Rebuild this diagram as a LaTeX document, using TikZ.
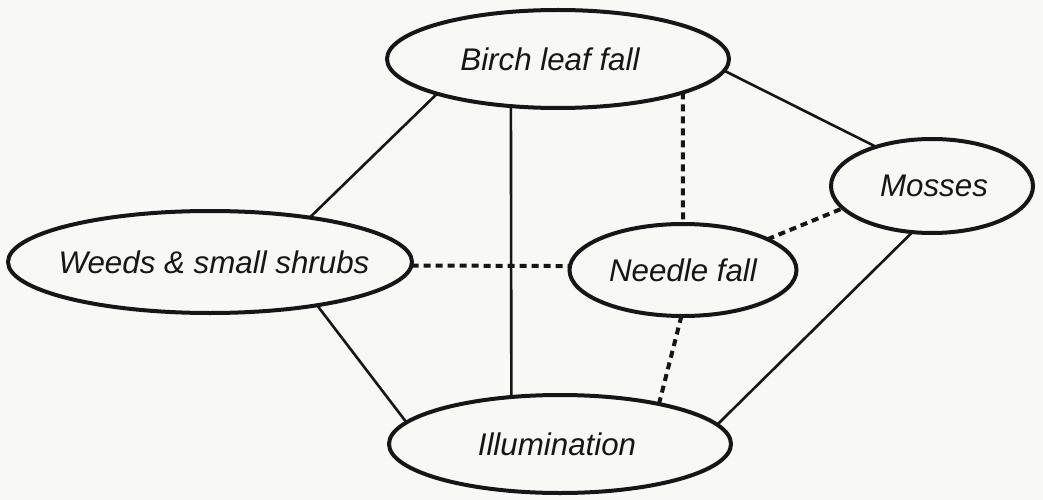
\documentclass[tikz,border=0pt]{standalone}
\usepackage{fontspec}
\setmainfont{Liberation Sans}
\usetikzlibrary{shapes.geometric}
\definecolor{bg}{RGB}{248,248,246}
\definecolor{ink}{RGB}{22,22,22}
\newcommand{\ovaltext}[2][0pt]{\makebox[0pt]{\kern#1 #2}}
\begin{document}
\begin{tikzpicture}[x=1pt,y=-1pt,
  oval/.style={ellipse, draw=ink, line width=4pt, fill=bg, inner sep=0pt, outer sep=0pt,
    font=\fontsize{31.3}{36}\selectfont\itshape, text=ink},
  solidlink/.style={draw=ink, line width=2.6pt},
  dashlink/.style={draw=ink, line width=4pt, dash pattern=on 7pt off 5pt}]
\fill[bg] (0,0) rectangle (1043,500);
\useasboundingbox (0,0) rectangle (1043,500);
\node[oval, minimum width=342pt, minimum height=98pt] (birch) at (558,59) {\makebox[0pt]{Birch leaf fall\kern16pt}};
\node[oval, minimum width=404pt, minimum height=102pt] (weeds) at (210,262) {\makebox[0pt]{\kern8pt Weeds \& small shrubs}};
\node[oval, minimum width=227pt, minimum height=92pt] (needle) at (683,270) {\makebox[0pt]{Needle fall}};
\node[oval, minimum width=202pt, minimum height=94pt] (mosses) at (932,186) {\makebox[0pt]{\kern4pt Mosses}};
\node[oval, minimum width=342pt, minimum height=98pt] (illum) at (560,444) {\makebox[0pt]{Illumination\kern6pt}};
% solid connectors
\draw[solidlink] (birch.196.3) -- (weeds.24.5);
\draw[solidlink] (birch.225) -- (illum.136.3);
\draw[solidlink] (birch.-4) -- (mosses.145.7);
\draw[solidlink] (weeds.-22) -- (illum.172);
\draw[solidlink] (mosses.247.8) -- (illum.7.9);
% dashed connectors
\draw[dashlink] (birch.-15) -- (needle.north);
\draw[dashlink] (weeds.-1.4) -- (needle.178.5);
\draw[dashlink] (needle.20) -- (mosses.194.3);
\draw[dashlink] (needle.268) -- (illum.22.3);
\end{tikzpicture}
\end{document}
